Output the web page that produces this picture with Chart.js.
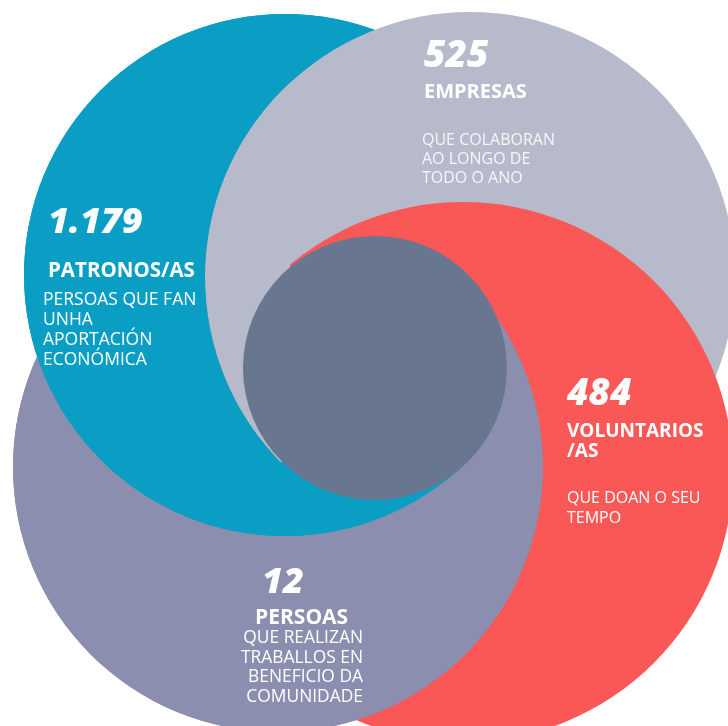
<!DOCTYPE html>
<html lang="gl">
<head>
<meta charset="UTF-8">
<title>Persoas que colaboran</title>
<script src="https://cdn.jsdelivr.net/npm/chart.js"></script>
<style>
  html, body { margin: 0; padding: 0; background: #ffffff; }
  #caixa { width: 728px; height: 726px; position: relative; }
</style>
</head>
<body>
<div id="caixa"><canvas id="circulos"></canvas></div>
<script>
// --- datos ---
const grupos = ['patronos', 'empresas', 'voluntarios', 'persoas'];
const cifras = [1179, 525, 484, 12];
const titulos = [['PATRONOS/AS'], ['EMPRESAS'], ['VOLUNTARIOS', '/AS'], ['PERSOAS']];
const descricions = [
  ['PERSOAS QUE FAN', 'UNHA', 'APORTACIÓN', 'ECONÓMICA'],
  ['QUE COLABORAN', 'AO LONGO DE', 'TODO O ANO'],
  ['QUE DOAN O SEU', 'TEMPO'],
  ['QUE REALIZAN', 'TRABALLOS EN', 'BENEFICIO DA', 'COMUNIDADE']
];

// --- disposición (px do debuxo) ---
const circulos = {
  patronos:    { x: 285, y: 275, r: 261, cor: '#0a9ec5', orde: 5 },
  empresas:    { x: 470, y: 277, r: 265, cor: '#b6bacb', orde: 3 },
  voluntarios: { x: 463, y: 472, r: 270, cor: '#fa5757', orde: 2 },
  persoas:     { x: 278, y: 467, r: 265, cor: '#8b8eae', orde: 4 }
};
const centro = { x: 375, y: 368, r: 132, cor: '#69768f' };
// zonas onde cada circulo queda por riba (efecto remuiño)
const zonas = { persoasDesde: 290, empresasAta: 290, patronosDesde: 462 };

// posicion e tamaño dos textos
const textos = {
  patronos:    { x: 48,  cifra: 233, tamCifra: 36, titulo: 277, tamTitulo: 20.5, desc: 305, paso: 20, tamDesc: 17.5, xDesc: 43, cor: '#ffffff' },
  empresas:    { x: 424, cifra: 67,  tamCifra: 37, titulo: 98,  tamTitulo: 20, desc: 145, paso: 19, tamDesc: 16, xDesc: 422, cor: 'rgba(255,255,255,0.88)' },
  voluntarios: { x: 567, cifra: 405, tamCifra: 37, titulo: 437, tamTitulo: 19, desc: 503, paso: 20, tamDesc: 16, xDesc: 567, cor: '#ffffff' },
  persoas:     { x: 262, cifra: 593, tamCifra: 36, titulo: 624, tamTitulo: 21, desc: 643, paso: 19.5, tamDesc: 17.4, xDesc: 363, aliñar: 'right', xTitulo: 255, cor: '#ffffff' }
};

const FONTE = '"Open Sans", "Noto Sans", sans-serif';

function formatar(n) {
  return String(n).replace(/\B(?=(\d{3})+(?!\d))/g, '.');
}

const datasets = grupos.map(g => ({
  label: g,
  data: [{ x: circulos[g].x, y: circulos[g].y, r: circulos[g].r }],
  backgroundColor: circulos[g].cor,
  borderWidth: 0,
  order: circulos[g].orde
}));
datasets.push({
  label: 'centro',
  data: [{ x: centro.x, y: centro.y, r: centro.r }],
  backgroundColor: centro.cor,
  borderWidth: 0,
  order: 1
});

// redebuxa cada circulo na súa zona para que se vexan solapados en remuiño
const remuino = {
  id: 'remuino',
  afterDatasetDraw(chart, args) {
    if (args.index !== grupos.indexOf('voluntarios')) return;
    const ctx = chart.ctx;
    const xs = chart.scales.x, ys = chart.scales.y;
    const area = chart.chartArea;
    const el = g => chart.getDatasetMeta(grupos.indexOf(g)).data[0];

    // persoas por riba na metade inferior
    ctx.save();
    ctx.beginPath();
    const yP = ys.getPixelForValue(zonas.persoasDesde);
    ctx.rect(0, yP, chart.width, chart.height - yP);
    ctx.clip();
    el('persoas').draw(ctx, area);
    ctx.restore();

    // empresas por riba á esquerda
    ctx.save();
    ctx.beginPath();
    ctx.rect(0, 0, xs.getPixelForValue(zonas.empresasAta), chart.height);
    ctx.clip();
    el('empresas').draw(ctx, area);
    ctx.restore();

    // patronos por riba fóra do circulo de empresas...
    const e = el('empresas');
    ctx.save();
    ctx.beginPath();
    ctx.rect(0, 0, chart.width, chart.height);
    ctx.arc(e.x, e.y, e.options.radius, 0, Math.PI * 2);
    ctx.clip('evenodd');
    el('patronos').draw(ctx, area);
    ctx.restore();

    // ...e na parte de abaixo
    ctx.save();
    ctx.beginPath();
    const yT = ys.getPixelForValue(zonas.patronosDesde);
    ctx.rect(0, yT, chart.width, chart.height - yT);
    ctx.clip();
    el('patronos').draw(ctx, area);
    ctx.restore();
  },
  afterDraw(chart) {
    const ctx = chart.ctx;
    const xs = chart.scales.x, ys = chart.scales.y;
    ctx.save();
    ctx.textBaseline = 'alphabetic';
    grupos.forEach((g, i) => {
      const t = textos[g];
      ctx.fillStyle = '#ffffff';
      ctx.textAlign = 'left';
      ctx.font = 'italic 800 ' + t.tamCifra + 'px ' + FONTE;
      ctx.fillText(formatar(cifras[i]), xs.getPixelForValue(t.x), ys.getPixelForValue(t.cifra));
      ctx.font = 'bold ' + t.tamTitulo + 'px ' + FONTE;
      titulos[i].forEach((l, k) => {
        ctx.fillText(l, xs.getPixelForValue(t.xTitulo || t.x), ys.getPixelForValue(t.titulo + k * 20));
      });
      ctx.fillStyle = t.cor;
      ctx.font = t.tamDesc + 'px ' + FONTE;
      ctx.textAlign = t.aliñar || 'left';
      descricions[i].forEach((l, k) => {
        ctx.fillText(l, xs.getPixelForValue(t.xDesc), ys.getPixelForValue(t.desc + k * t.paso));
      });
    });
    ctx.restore();
  }
};

new Chart(document.getElementById('circulos'), {
  type: 'bubble',
  data: { datasets: datasets },
  options: {
    responsive: true,
    maintainAspectRatio: false,
    animation: false,
    events: [],
    layout: { padding: 0, autoPadding: false },
    plugins: { legend: { display: false }, tooltip: { enabled: false } },
    scales: {
      x: { type: 'linear', min: 0, max: 728, display: false },
      y: { type: 'linear', min: 0, max: 726, reverse: true, display: false }
    }
  },
  plugins: [remuino]
});
</script>
</body>
</html>
